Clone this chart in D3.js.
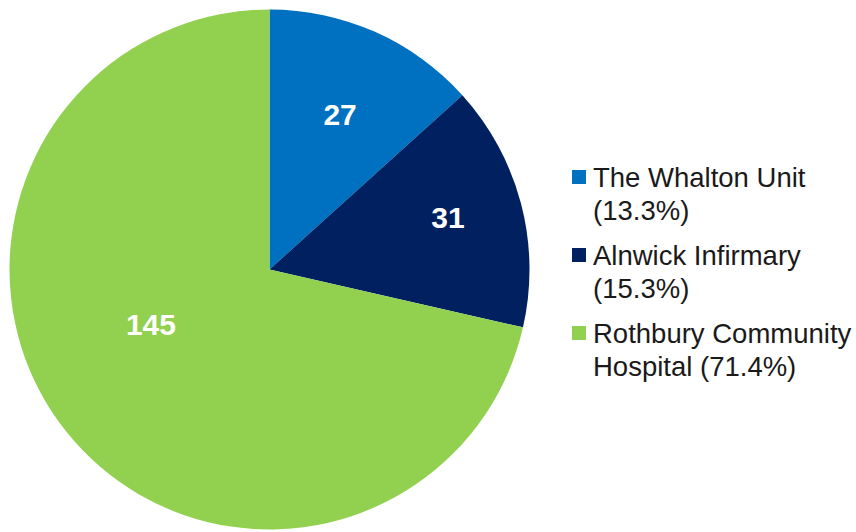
<!DOCTYPE html>
<html>
<head>
<meta charset="utf-8">
<script src="https://cdn.jsdelivr.net/npm/d3@7"></script>
<style>
  html, body { margin: 0; padding: 0; background: #fff; }
  svg { display: block; font-family: "Liberation Sans", Arial, sans-serif; }
</style>
</head>
<body>
<svg id="chart"></svg>
<script>
const units = ["The Whalton Unit", "Alnwick Infirmary", "Rothbury Community Hospital"];
const counts = [27, 31, 145];
const legendLines = [
  ["The Whalton Unit", "(13.3%)"],
  ["Alnwick Infirmary", "(15.3%)"],
  ["Rothbury Community", "Hospital (71.4%)"]
];
const colors = ["#0070C0", "#002060", "#92D050"];

const width = 856;
const height = 532;
const cx = 269.5, cy = 269.5, radius = 260;
// label placement inside each slice (excel "best fit" look):
// distance as fraction of radius, angle as fraction across the slice
const labelFrac = [0.657, 0.715, 0.502];
const labelAngleFrac = [0.51, 0.47, 0.554];

const svg = d3.select("#chart")
  .attr("width", width)
  .attr("height", height);

const data = units.map((u, i) => ({ unit: u, value: counts[i], i }));

const pie = d3.pie().sort(null).value(d => d.value);
const arcs = pie(data);
const arc = d3.arc().innerRadius(0).outerRadius(radius);

const color = d3.scaleOrdinal().domain(units).range(colors);

const g = svg.append("g").attr("transform", `translate(${cx},${cy})`);

g.selectAll("path")
  .data(arcs)
  .join("path")
  .attr("d", arc)
  .attr("fill", d => color(d.data.unit));

// ── Value labels ──
g.selectAll("text.val")
  .data(arcs)
  .join("text")
  .attr("class", "val")
  .attr("transform", d => {
    const r = radius * labelFrac[d.data.i];
    const a = d.startAngle + (d.endAngle - d.startAngle) * labelAngleFrac[d.data.i];
    return `translate(${r * Math.sin(a)},${-r * Math.cos(a)})`;
  })
  .attr("text-anchor", "middle")
  .attr("dy", "0.36em")
  .attr("font-size", 30)
  .attr("font-weight", "bold")
  .attr("fill", "#fff")
  .text(d => d.data.value);

// ── Legend ──
const legend = svg.append("g").attr("transform", "translate(572,0)");

legendLines.forEach((lines, i) => {
  const row = legend.append("g").attr("transform", `translate(0,${187 + i * 78})`);
  row.append("rect")
    .attr("x", 0).attr("y", -17)
    .attr("width", 14).attr("height", 14)
    .attr("fill", colors[i]);
  lines.forEach((t, j) => {
    row.append("text")
      .attr("x", 21).attr("y", j * 33)
      .attr("font-size", 27.5)
      .attr("fill", "#1a1a1a")
      .text(t);
  });
});
</script>
</body>
</html>
